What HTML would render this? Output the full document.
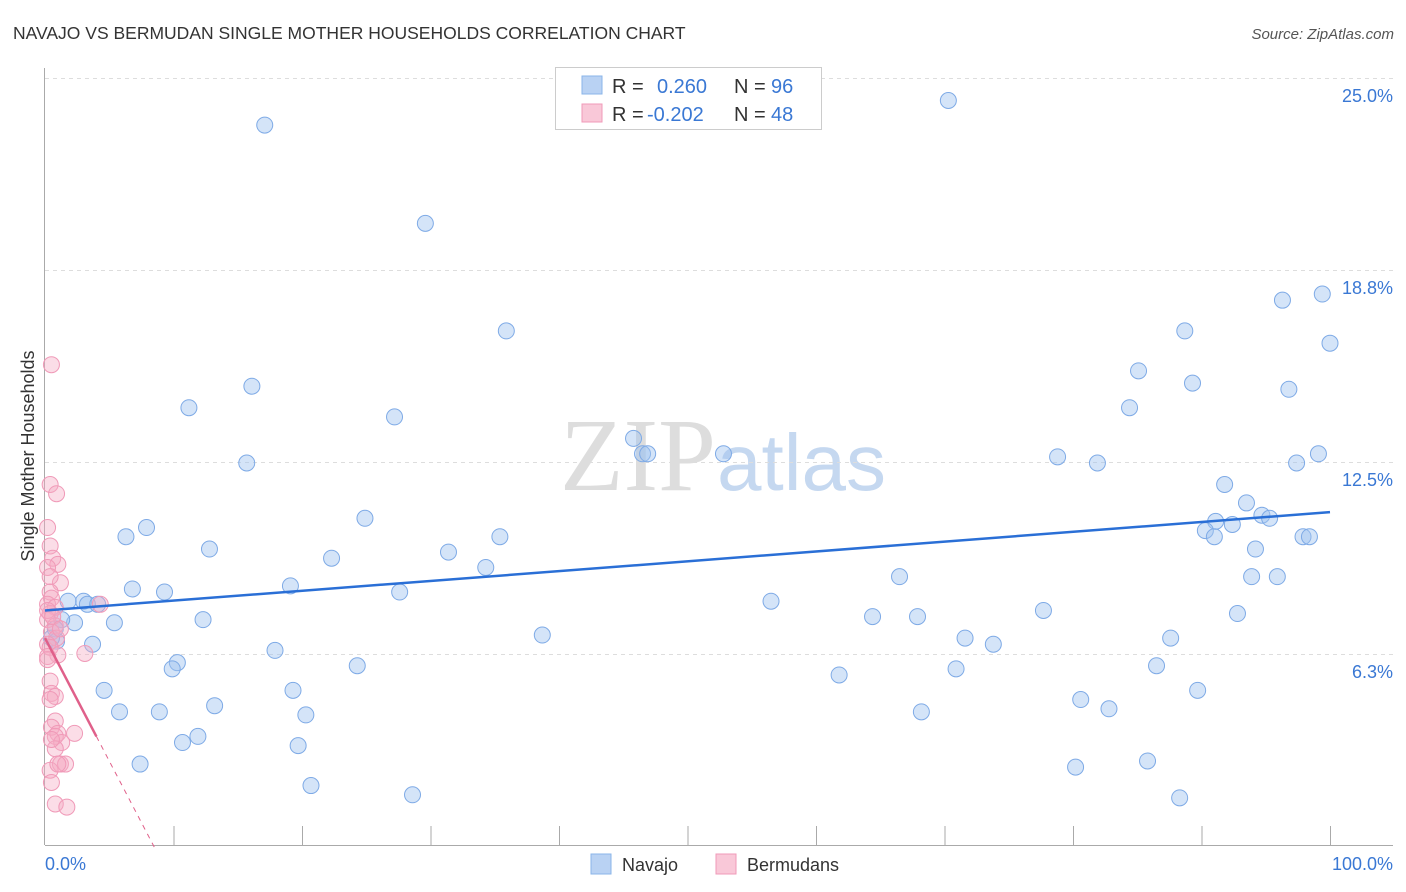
<!DOCTYPE html>
<html><head><meta charset="utf-8"><style>
body{margin:0;background:#fff;font-family:"Liberation Sans",sans-serif;}
#wrap{position:relative;width:1406px;height:892px;overflow:hidden;}
</style></head><body>
<div id="wrap">
<svg id="chart" width="1406" height="892">
<text x="13" y="39" font-size="17.5" fill="#333">NAVAJO VS BERMUDAN SINGLE MOTHER HOUSEHOLDS CORRELATION CHART</text>
<text x="1394" y="39" font-size="15" fill="#555" font-style="italic" text-anchor="end">Source: ZipAtlas.com</text>
<text x="716" y="490" font-size="104" fill="#ddd" font-family="Liberation Serif,serif" text-anchor="end">ZIP</text>
<text x="717" y="490" font-size="80" fill="#c5d8f0">atlas</text>
<g id="grid"></g>
<g id="axes"></g>
<g id="pts"></g>
<g id="lines"></g>
<text x="34" y="456" font-size="18" fill="#333" transform="rotate(-90 34 456)" text-anchor="middle">Single Mother Households</text>
<text x="45" y="870" font-size="18" fill="#3a78d4">0.0%</text>
<text x="1393" y="870" font-size="18" fill="#3a78d4" text-anchor="end">100.0%</text>
<g>
<rect x="555.5" y="67.5" width="266" height="62" fill="#fff" stroke="#ccc"/>
<rect x="582" y="76" width="20" height="18" fill="#b9d2f3" stroke="#8ab4e8"/>
<rect x="582" y="104" width="20" height="18" fill="#f9c8d8" stroke="#f09ab8"/>
<text x="612" y="93" font-size="20" fill="#333">R =</text>
<text x="657" y="93" font-size="20" fill="#3a78d4">0.260</text>
<text x="734" y="93" font-size="20" fill="#333">N =</text>
<text x="771" y="93" font-size="20" fill="#3a78d4">96</text>
<text x="612" y="121" font-size="20" fill="#333">R =</text>
<text x="647" y="121" font-size="20" fill="#3a78d4">-0.202</text>
<text x="734" y="121" font-size="20" fill="#333">N =</text>
<text x="771" y="121" font-size="20" fill="#3a78d4">48</text>
</g>
<g>
<rect x="591" y="854" width="20" height="20" fill="#b9d2f3" stroke="#8ab4e8"/>
<text x="622" y="871" font-size="18" fill="#333">Navajo</text>
<rect x="716" y="854" width="20" height="20" fill="#f9c8d8" stroke="#f09ab8"/>
<text x="747" y="871" font-size="18" fill="#333">Bermudans</text>
</g>
</svg>
</div>
<script>
const yTicks=[6.25,12.5,18.75,25];
const yTickLabels=["6.3%","12.5%","18.8%","25.0%"];
const navajoX=[17.1,70.3,29.6,35.9,96.3,99.4,100,88.7,85.1,89.3,96.8,84.4,16.1,11.2,27.2,45.8,46.5,46.9,52.8,15.7,78.8,81.9,97.4,99.1,91.8,93.5,94.7,95.3,91.1,92.4,90.3,91.0,97.9,98.4,94.2,7.9,24.9,6.3,12.8,35.4,31.4,22.3,34.3,66.5,93.9,95.9,6.8,9.3,19.1,27.6,3.0,1.8,3.3,4.1,56.5,77.7,92.8,5.4,2.3,1.3,12.3,64.4,67.9,38.7,71.6,73.8,87.6,0.8,0.9,0.5,3.7,17.9,10.3,9.9,24.3,70.9,86.5,61.8,4.6,19.3,89.7,80.6,82.8,13.2,5.8,8.9,20.3,68.2,11.9,10.7,19.7,7.4,80.2,85.8,20.7,28.6,88.3];
const navajoY=[23.5,24.3,20.3,16.8,17.8,18.0,16.4,16.8,15.5,15.1,14.9,14.3,15.0,14.3,14.0,13.3,12.8,12.8,12.8,12.5,12.7,12.5,12.5,12.8,11.8,11.2,10.8,10.7,10.6,10.5,10.3,10.1,10.1,10.1,9.7,10.4,10.7,10.1,9.7,10.1,9.6,9.4,9.1,8.8,8.8,8.8,8.4,8.3,8.5,8.3,8.0,8.0,7.9,7.9,8.0,7.7,7.6,7.3,7.3,7.4,7.4,7.5,7.5,6.9,6.8,6.6,6.8,7.1,6.7,6.8,6.6,6.4,6.0,5.8,5.9,5.8,5.9,5.6,5.1,5.1,5.1,4.8,4.5,4.6,4.4,4.4,4.3,4.4,3.6,3.4,3.3,2.7,2.6,2.8,2.0,1.7,1.6];
const bermX=[0.5,0.4,0.9,0.2,0.4,0.6,1.0,0.2,1.2,0.4,0.4,0.5,0.2,0.8,4.3,0.4,0.2,0.8,0.5,0.9,0.2,0.4,3.1,1.0,0.2,0.4,0.5,0.8,0.8,0.5,1.0,2.3,0.8,1.3,0.8,1.2,1.6,0.4,0.5,0.8,1.7,0.2,0.6,1.2,0.4,1.0,0.5,0.2];
const bermY=[15.7,11.8,11.5,10.4,9.8,9.4,9.2,9.1,8.6,8.8,8.3,8.1,7.9,7.8,7.9,7.6,7.4,7.2,7.0,6.8,6.6,6.5,6.3,6.25,6.2,5.4,5.0,4.9,4.1,3.9,3.7,3.7,3.6,3.4,3.2,2.7,2.7,2.5,2.1,1.4,1.3,7.7,7.5,7.1,4.8,2.7,3.5,6.1];
const navajoTrend=[[0,7.7],[100,10.9]];
const bermTrendSolid=[[0,6.8],[4,3.6]];
const bermTrendDash=[[4,3.6],[8.5,0]];

const NS="http://www.w3.org/2000/svg";
const X=v=>45+v*12.85;
const Y=v=>847-v*30.72;
function mk(tag,attrs,parent){const e=document.createElementNS(NS,tag);for(const k in attrs)e.setAttribute(k,attrs[k]);parent.appendChild(e);return e;}
const grid=document.getElementById('grid'),axes=document.getElementById('axes'),pts=document.getElementById('pts'),lines=document.getElementById('lines');
yTicks.forEach((t,i)=>{
  const l=mk('line',{x1:45,x2:1393,y1:Y(t)-0.5,y2:Y(t)-0.5,stroke:'#ddd','stroke-dasharray':'4,4'},grid);
  
  
  const tx=mk('text',{x:1393,y:Y(t)+23,'font-size':18,fill:'#3a78d4','text-anchor':'end'},grid);
  tx.textContent=yTickLabels[i];
  
  
});
const ya=mk('line',{x1:44.5,x2:44.5,y1:68,y2:845,stroke:'#aaa'},axes);


const xa=mk('line',{x1:45,x2:1393,y1:845.5,y2:845.5,stroke:'#aaa'},axes);


for(let k=1;k<=10;k++){
  const t=mk('line',{x1:X(k*10)+0.5,x2:X(k*10)+0.5,y1:826,y2:845,stroke:'#aaa'},axes);
  
  
}
navajoX.forEach((v,i)=>{
  const c=mk('circle',{cx:X(v),cy:Y(navajoY[i]),r:8,fill:'rgba(160,196,240,0.45)',stroke:'#7eaae6','stroke-width':1},pts);
  
  
});
bermX.forEach((v,i)=>{
  const c=mk('circle',{cx:X(v),cy:Y(bermY[i]),r:8,fill:'rgba(244,170,195,0.4)',stroke:'#f09ab8','stroke-width':1},pts);
  
  
});
const l1=mk('line',{x1:X(navajoTrend[0][0]),y1:Y(navajoTrend[0][1]),x2:X(navajoTrend[1][0]),y2:Y(navajoTrend[1][1]),stroke:'#2a6fd6','stroke-width':2.5},lines);


const l2=mk('line',{x1:X(bermTrendSolid[0][0]),y1:Y(bermTrendSolid[0][1]),x2:X(bermTrendSolid[1][0]),y2:Y(bermTrendSolid[1][1]),stroke:'#e0608a','stroke-width':2.5},lines);


const l3=mk('line',{x1:X(bermTrendDash[0][0]),y1:Y(bermTrendDash[0][1]),x2:X(bermTrendDash[1][0]),y2:Y(bermTrendDash[1][1]),stroke:'#e0608a','stroke-width':1,'stroke-dasharray':'5,5'},lines);


</script>
</body></html>
